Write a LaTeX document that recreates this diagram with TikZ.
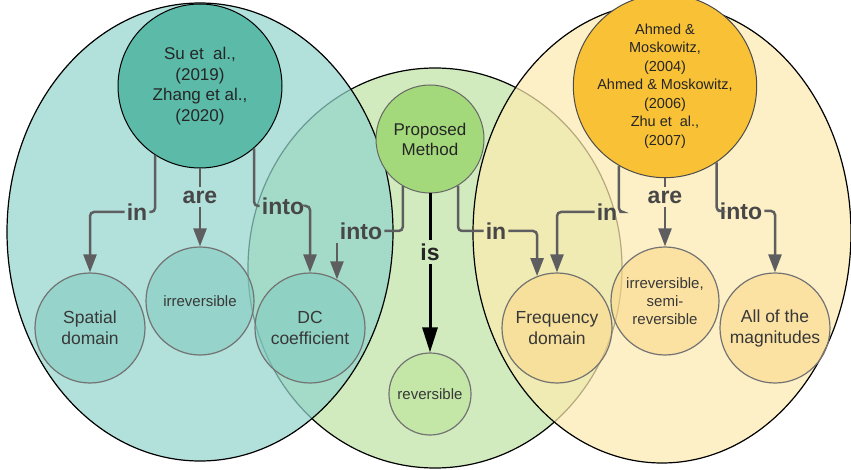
\documentclass[tikz,border=0pt]{standalone}
\usepackage{fontspec}
\setmainfont{Liberation Sans}
\usetikzlibrary{arrows.meta}

\definecolor{tealbig}{HTML}{94D4CC}
\definecolor{tealtop}{HTML}{5BBAA8}
\definecolor{tealsmall}{HTML}{7FCABF}
\definecolor{greenbig}{HTML}{D1EBBE}
\definecolor{greentop}{HTML}{A3D87B}
\definecolor{greensmall}{HTML}{C4E7A8}
\definecolor{yellowbig}{HTML}{FCEAB0}
\definecolor{yellowtop}{HTML}{F8C136}
\definecolor{yellowsmall}{HTML}{FBD888}
\definecolor{linegrey}{HTML}{5E5E60}

\begin{document}
\begin{tikzpicture}[
		x=1pt, y=-1pt,
		big/.style={draw=black, line width=1.2pt},
		src/.style={circle, draw=black, line width=1pt, inner sep=0pt, align=center, text=black!85},
		dst/.style={circle, draw=black!55, line width=1.2pt, inner sep=0pt, align=center,
			text=black!78, fill opacity=.55, text opacity=1, minimum size=110pt},
		bigtext/.style={font=\fontsize{17.5}{21}\selectfont},
		smalltext/.style={font=\fontsize{15}{18}\selectfont},
		lbl/.style={inner xsep=2pt, inner ysep=3pt, text=black!72,
			font=\fontsize{23}{25}\selectfont\bfseries},
		conn/.style={draw=linegrey, line width=2.5pt, rounded corners=4pt},
		arrowed/.style={-{Triangle[length=18pt,width=13pt]}},
		isline/.style={draw=black, line width=3pt}
	]
	\useasboundingbox (0,0) rectangle (851,470);

	% three sets
	\fill[greenbig] (435,268) ellipse [x radius=187pt, y radius=200pt];
	\draw[big] (435,268) ellipse [x radius=187pt, y radius=200pt];
	\fill[tealbig, fill opacity=.72] (200,232) ellipse [x radius=193pt, y radius=229pt];
	\draw[big] (200,232) ellipse [x radius=193pt, y radius=229pt];
	\fill[yellowbig, fill opacity=.72] (662,233) ellipse [x radius=189pt, y radius=230pt];
	\draw[big] (662,233) ellipse [x radius=189pt, y radius=230pt];

	% sources
	\node[src, fill=tealtop, minimum size=164pt, font=\fontsize{17}{20.5}\selectfont] (su) at (200,86)
		{Su et~~al.,\\(2019)\\Zhang et al.,\\(2020)};
	\node[src, fill=greentop, draw=black!60, minimum size=108pt, font=\fontsize{17}{20}\selectfont] (pm) at (430,139)
		{Proposed\\Method};
	\node[src, fill=yellowtop, draw=black!70, minimum size=164pt, font=\fontsize{14.5}{18.5}\selectfont] (ah) at (665,86)
		{Ahmed \&\\Moskowitz,\\(2004)\\Ahmed \& Moskowitz,\\(2006)\\Zhu et~~al.,\\(2007)};

	% targets
	\node[dst, bigtext, fill=tealsmall] (spatial) at (90,328) {Spatial\\domain};
	\node[dst, smalltext, fill=tealsmall, minimum size=108pt] (irrevL) at (200,301) {irreversible};
	\node[dst, bigtext, fill=tealsmall] (dc) at (310,328) {DC\\coefficient};
	\node[dst, smalltext, fill=greensmall, fill opacity=1, minimum size=82pt] (rev) at (430,394) {reversible};
	\node[dst, bigtext, fill=yellowsmall] (freq) at (557,328) {Frequency\\domain};
	\node[dst, smalltext, fill=yellowsmall, minimum size=108pt] (irrevR) at (665,301)
		{irreversible,\\semi-\\reversible};
	\node[dst, bigtext, fill=yellowsmall] (mag) at (775,328) {All of the\\magnitudes};

	% labels
	\node[lbl] (suIn)   at (137,212) {in};
	\node[lbl] (suAre)  at (200,197) {are};
	\node[lbl] (suInto) at (283,206) {into};
	\node[lbl] (pmInto) at (361,231) {into};
	\node[lbl, text=black!85] (pmIs) at (430,252) {is};
	\node[lbl] (pmIn)   at (496,231) {in};
	\node[lbl] (ahIn)   at (607,212) {in};
	\node[lbl] (ahAre)  at (665,197) {are};
	\node[lbl] (ahInto) at (741,211) {into};

	\foreach \from/\via/\to in {su/suAre/irrevL, ah/ahAre/irrevR} {
		\draw[conn] (\from.south) -- (\via.north);
		\draw[conn, arrowed] (\via.south) -- (\to.north);
	}

	\draw[conn] (su.-123.3) |- (suIn.east);
	\draw[conn, arrowed] (suIn.west) -| (spatial.north);
	\draw[conn] (su.-49.7) |- (suInto.west);
	\draw[conn, arrowed] (suInto.east) -| (dc.north);

	\draw[conn] (pm.-120.6) |- (pmInto.east);
	\draw[conn, arrowed] (pmInto.south -| dc.61) -- (dc.61);
	\draw[isline] (pm.south) -- (pmIs.north);
	\draw[isline, -{Triangle[length=25pt,width=15pt]}] (pmIs.south) -- (rev.north);
	\draw[conn] (pm.-59.4) |- (pmIn.west);
	\draw[conn, arrowed] (pmIn.east) -| (freq.111.3);

	\draw[conn] (ah.-120.8) |- (ahIn.east);
	\draw[conn, arrowed] (ahIn.west) -| (freq.north);
	\draw[conn] (ah.-56.7) |- (ahInto.west);
	\draw[conn, arrowed] (ahInto.east) -| (mag.north);

\end{tikzpicture}
\end{document}
